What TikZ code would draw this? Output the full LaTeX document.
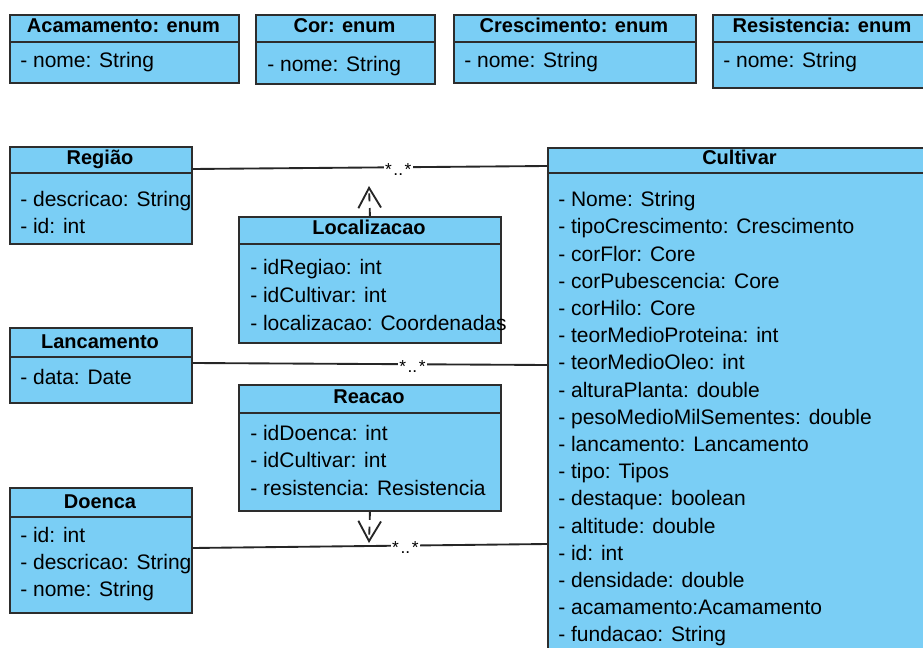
\documentclass[tikz,border=0pt]{standalone}
\usepackage{fontspec}
\setmainfont{Liberation Sans}
\usetikzlibrary{arrows.meta,calc}
\definecolor{boxblue}{RGB}{122,206,245}
\definecolor{boxline}{RGB}{45,45,45}
\tikzset{
  classbox/.style={draw=boxline, fill=boxblue, line width=1.4pt, inner sep=0pt, anchor=north west},
  classtitle/.style={font=\fontsize{15}{18}\selectfont\bfseries, inner sep=0pt, anchor=base},
  classattr/.style={font=\fontsize{15.75}{20}\selectfont, inner sep=0pt, anchor=base west},
  divider/.style={draw=boxline, line width=1.4pt},
  assoc/.style={draw=black!85, line width=1.4pt},
  mult/.style={font=\fontsize{13}{15}\selectfont, fill=white, inner sep=1pt, anchor=base},
  dep/.style={draw=black!85, line width=1.4pt, dash pattern=on 6pt off 5pt, -{Straight Barb[length=15pt,width=17pt]}},
}
\newcommand{\UMLbox}[8]{%
  \node[classbox, minimum width={(#4-#2)*0.75pt}, minimum height={(#5-#3)*0.75pt}] (#1) at (#2,#3) {};
  \draw[divider] (#2,#6) -- (#4,#6);
  \node[classtitle] (#1-title) at ({(#2+#4)/2},#7) {#8};
}
\newcommand{\UMLattrs}[5]{%
  \foreach \a [count=\i from 0] in {#5} {
    \node[classattr] (#1-a\i) at (#2,{#3+\i*#4}) {- \a};
  }
}
\begin{document}
\begin{tikzpicture}[x=0.75pt,y=-0.75pt]
\useasboundingbox (0,0) rectangle (923,648);
\clip (0,0) rectangle (923,648);
% enums
\UMLbox{acam}{9}{14}{238}{82}{42}{33}{Acamamento: enum}
\UMLattrs{acam}{20}{68}{27}{nome: String}
\UMLbox{cor}{255}{14}{434}{83}{42}{33}{Cor: enum}
\UMLattrs{cor}{267}{72}{27}{nome: String}
\UMLbox{cresc}{453}{14}{695}{82}{42}{33}{Crescimento: enum}
\UMLattrs{cresc}{464}{68}{27}{nome: String}
\UMLbox{resist}{712}{14}{932}{87}{42}{33}{Resistencia: enum}
\UMLattrs{resist}{723}{68}{27}{nome: String}
% left column
\UMLbox{regiao}{9}{146}{191}{243}{173}{165}{Região}
\UMLattrs{regiao}{20}{206.5}{27}{descricao: String,id: int}
\UMLbox{lanc}{9}{327}{191}{402}{357}{348}{Lancamento}
\UMLattrs{lanc}{20}{384}{27}{data: Date}
\UMLbox{doenca}{9}{487}{191}{612}{517}{508}{Doenca}
\UMLattrs{doenca}{20}{542}{27.4}{id: int,descricao: String,nome: String}
% middle
\UMLbox{localizacao}{238}{216}{500}{342}{244}{235}{Localizacao}
\UMLattrs{localizacao}{250}{275}{27.5}{idRegiao: int,idCultivar: int,localizacao: Coordenadas}
\UMLbox{reacao}{238}{384}{500}{510}{413}{403}{Reacao}
\UMLattrs{reacao}{250}{440}{27.5}{idDoenca: int,idCultivar: int,resistencia: Resistencia}
% Cultivar
\UMLbox{cultivar}{547}{147}{932}{690}{173}{165}{Cultivar}
\UMLattrs{cultivar}{558}{206.7}{27.2}{Nome: String,tipoCrescimento: Crescimento,corFlor: Core,corPubescencia: Core,corHilo: Core,teorMedioProteina: int,teorMedioOleo: int,alturaPlanta: double,pesoMedioMilSementes: double,lancamento: Lancamento,tipo: Tipos,destaque: boolean,altitude: double,id: int,densidade: double,acamamento:Acamamento,fundacao: String}
% associations
\draw[assoc] ($(regiao.north east)+(0,23)$) -- node[mult, pos=0.58, yshift=-6pt] (m1) {*\kern1.2pt..\kern1.2pt*} ($(cultivar.north west)+(0,19)$);
\draw[assoc] ($(lanc.north east)+(0,36)$) -- node[mult, pos=0.62, yshift=-6pt] (m2) {*\kern1.2pt..\kern1.2pt*} ($(cultivar.north west)+(0,218)$);
\draw[assoc] ($(doenca.north east)+(0,61)$) -- node[mult, pos=0.60, yshift=-6pt] (m3) {*\kern1.2pt..\kern1.2pt*} ($(cultivar.north west)+(0,397)$);
% dependencies
\coordinate (locTip) at (369,186);
\coordinate (reaTip) at (369,543);
\draw[dep] (localizacao.north) -- (locTip);
\draw[dep] (reacao.south) -- (reaTip);
\end{tikzpicture}
\end{document}
